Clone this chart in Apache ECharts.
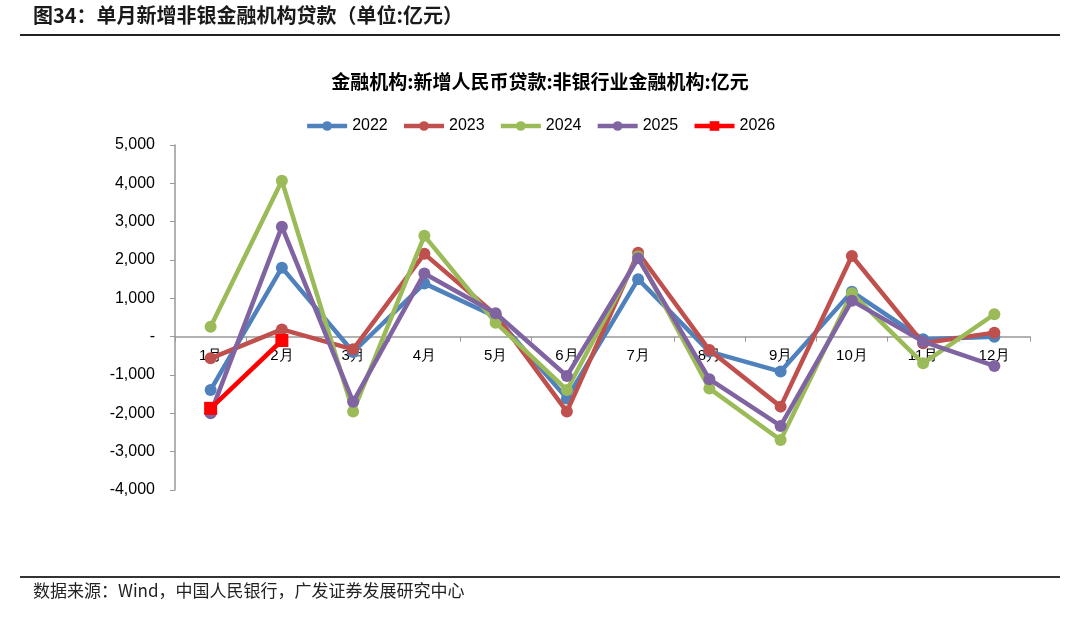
<!DOCTYPE html>
<html><head><meta charset="utf-8">
<script src="https://cdn.jsdelivr.net/npm/echarts@6/dist/echarts.min.js"></script>
<style>html,body{margin:0;padding:0;background:#fff}#c{width:1080px;height:619px}</style>
</head><body><div id="c"></div>
<script>
const months = ['1月','2月','3月','4月','5月','6月','7月','8月','9月','10月','11月','12月'];
const s2022 = [-1390, 1800, -400, 1390, 520, -1610, 1500, -390, -910, 1175, -70, 0];
const s2023 = [-565, 190, -330, 2160, 570, -1955, 2190, -350, -1825, 2105, -170, 105];
const s2024 = [260, 4065, -1955, 2630, 365, -1390, 2090, -1350, -2695, 1130, -695, 585];
const s2025 = [-2000, 2870, -1700, 1650, 610, -1025, 2045, -1110, -2330, 940, -130, -765];
const s2026 = [-1870, -100];
const yearNames = ['2022','2023','2024','2025','2026'];
const colors = ['#4F81BD','#C0504D','#9BBB59','#8064A2','#FF0000'];
const allData = [s2022, s2023, s2024, s2025, s2026];

const chart = echarts.init(document.getElementById('c'));
const font = '"Liberation Sans", Arial, sans-serif';
const cjk = '"Noto Sans CJK SC", sans-serif';
const gridTop = 145, gridBottom = 129, yMin = -4000, yMax = 5000;
const plotH = 619 - gridTop - gridBottom;
const zeroOffset = -plotH * (0 - yMin) / (yMax - yMin);
chart.setOption({
  animation: false,
  backgroundColor: '#fff',
  title: {
    text: '金融机构:新增人民币贷款:非银行业金融机构:亿元',
    left: 'center', top: 67,
    textStyle: {fontFamily: cjk, fontSize: 19, fontWeight: 'bold', color: '#000'}
  },
  legend: {
    top: 113, left: 'center',
    itemWidth: 40, itemHeight: 12, itemGap: 14,
    lineStyle: {width: 4.5},
    textStyle: {fontFamily: font, fontSize: 16, color: '#000'},
    data: yearNames
  },
  grid: {left: 175, right: 50, top: gridTop, bottom: gridBottom, containLabel: false},
  xAxis: {
    type: 'category', data: months, boundaryGap: true,
    offset: zeroOffset,
    axisLine: {onZero: false, lineStyle: {color: '#999', width: 1.5}},
    axisTick: {show: true, inside: false, length: 5, lineStyle: {color: '#999'}},
    axisLabel: {fontFamily: font, fontSize: 15, color: '#000', margin: 12}
  },
  yAxis: {
    type: 'value', min: yMin, max: yMax, interval: 1000,
    axisLine: {show: true, lineStyle: {color: '#999', width: 1.5}},
    axisTick: {show: true, length: 5, lineStyle: {color: '#999'}},
    splitLine: {show: false},
    axisLabel: {
      fontFamily: font, fontSize: 16, color: '#000', margin: 20,
      formatter: v => v === 0 ? '-' : v.toLocaleString('en-US')
    }
  },
  series: allData.map((d, i) => ({
    name: yearNames[i], type: 'line', data: d,
    symbol: i === 4 ? 'rect' : 'circle',
    symbolSize: i === 4 ? 13 : 12,
    z: 2 + i,
    lineStyle: {width: 4.5, color: colors[i]},
    itemStyle: {color: colors[i]}
  })),
  graphic: [
    {type: 'text', left: 33, top: 5, style: {text: '图34：单月新增非银金融机构贷款（单位:亿元）', font: 'bold 20px "Noto Sans CJK SC"', fill: '#1a1a1a'}},
    {type: 'rect', shape: {x: 20, y: 34, width: 1040, height: 2}, style: {fill: '#222'}},
    {type: 'rect', shape: {x: 20, y: 576, width: 1040, height: 2}, style: {fill: '#333'}},
    {type: 'text', left: 33, top: 582, style: {text: '数据来源：Wind，中国人民银行，广发证券发展研究中心', font: '17px "Noto Sans CJK SC"', fill: '#222'}}
  ]
});
</script></body></html>
